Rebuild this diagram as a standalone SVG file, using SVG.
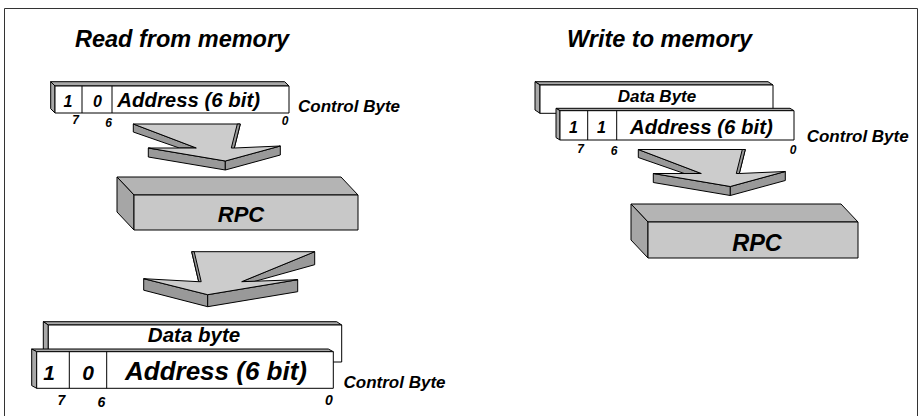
<svg xmlns="http://www.w3.org/2000/svg" xmlns:xlink="http://www.w3.org/1999/xlink" width="921" height="416" viewBox="0 0 921 416">
<style>
.t{font-family:"Liberation Sans",Arial,sans-serif;font-weight:bold;font-style:italic;fill:#000}
.f{stroke:#000;stroke-width:1;stroke-linejoin:round}
.w{fill:#fff}
.s{fill:#a8a8a8}
.at{fill:#cccccc}
.as{fill:#999999}
.rf{fill:#c8c8c8}
.rt{fill:#b4b4b4}
.rl{fill:#a6a6a6}
.div{stroke:#000;stroke-width:1}
</style>
<defs>
<g id="arrowA">
<polygon class="f as" points="0,0 63,24 46,24 0,8"/>
<polygon class="f as" points="15,24 92,37 92,46 15,33"/>
<polygon class="f as" points="92,37 147,22 147,31 92,46"/>
<polygon class="f at" points="0,0 107,0 101,24 147,22 92,37 15,24 63,24"/>
<polygon class="f as" points="104,0 107,0 101,24 98,24"/>
</g>
<g id="arrowB">
<polygon class="f as" points="123,0 123,13 62,30 50,30"/>
<polygon class="f as" points="-48,27 16,43 16,55 -48,38.5"/>
<polygon class="f as" points="16,43 106,28 106,40 16,55"/>
<polygon class="f at" points="0,0 123,0 50,30 106,28 16,43 -48,27 7,30"/>
<polygon class="f as" points="0,0 2.5,0 9.5,30 7,30"/>
</g>
</defs>
<polyline points="4.5,416 4.5,8.5 917.5,8.5 917.5,416" fill="none" stroke="#333" stroke-width="1"/>
<text class="t" x="75" y="47" font-size="23.5">Read from memory</text>
<text class="t" x="567" y="47" font-size="23.5">Write to memory</text>

<g id="connectors">
<use xlink:href="#arrowA" transform="translate(133.3,124)"/>
<use xlink:href="#arrowB" transform="translate(191.7,251.7)"/>
<use xlink:href="#arrowA" transform="translate(638.3,149.5)"/>
</g>

<g id="ctrl-read">
<polygon class="f s" points="50.7,81.7 284.7,81.7 289,86 55,86"/>
<polygon class="f s" points="50.7,81.7 55,86 55,113 50.7,108.7"/>
<rect class="f w" x="55" y="86" width="234" height="27"/>
<line class="div" x1="82" y1="86" x2="82" y2="113"/>
<line class="div" x1="112" y1="86" x2="112" y2="113"/>
<text class="t" x="68" y="106.5" font-size="16" text-anchor="middle">1</text>
<text class="t" x="97.5" y="106.5" font-size="16" text-anchor="middle">0</text>
<text class="t" x="117.3" y="106.5" font-size="20.4">Address (6 bit)</text>
<text class="t" x="75.5" y="124" font-size="12" text-anchor="middle">7</text>
<text class="t" x="108.5" y="127" font-size="12" text-anchor="middle">6</text>
<text class="t" x="285" y="125" font-size="12" text-anchor="middle">0</text>
<text class="t" x="298" y="111.5" font-size="17">Control Byte</text>
</g>

<g id="rpc-read">
<polygon class="f rt" points="117,177 341,177 358,195 134,195"/>
<polygon class="f rl" points="117,177 134,195 134,230 117,212"/>
<rect class="f rf" x="134" y="195" width="224" height="35"/>
<text class="t" x="241" y="221.5" font-size="22" text-anchor="middle">RPC</text>
</g>

<g id="data-read">
<polygon class="f s" points="43.3,321.7 336.7,321.7 341.7,325 48.3,325"/>
<polygon class="f s" points="43.3,321.7 48.3,325 48.3,362 43.3,358.7"/>
<rect class="f w" x="48.3" y="325" width="293.4" height="37"/>
<text class="t" x="194" y="341.7" font-size="20.5" text-anchor="middle">Data byte</text>
</g>

<g id="ctrl-read-result">
<polygon class="f s" points="31.7,349 328.3,349 333.3,351.7 36.7,351.7"/>
<polygon class="f s" points="31.7,349 36.7,351.7 36.7,388.3 31.7,385.6"/>
<rect class="f w" x="36.7" y="351.7" width="296.6" height="36.6"/>
<line class="div" x1="69.3" y1="351.7" x2="69.3" y2="388.3"/>
<line class="div" x1="106.7" y1="351.7" x2="106.7" y2="388.3"/>
<text class="t" x="49" y="380" font-size="21" text-anchor="middle">1</text>
<text class="t" x="88" y="380" font-size="21" text-anchor="middle">0</text>
<text class="t" x="125" y="380" font-size="26">Address (6 bit)</text>
<text class="t" x="61.5" y="405" font-size="14" text-anchor="middle">7</text>
<text class="t" x="101.5" y="407" font-size="14" text-anchor="middle">6</text>
<text class="t" x="329" y="405" font-size="14" text-anchor="middle">0</text>
<text class="t" x="343.5" y="388" font-size="17">Control Byte</text>
</g>

<g id="data-write">
<polygon class="f s" points="535,81.7 768,81.7 773,85 540,85"/>
<polygon class="f s" points="535,81.7 540,85 540,113.3 535,110"/>
<rect class="f w" x="540" y="85" width="233" height="28.3"/>
<text class="t" x="657" y="101.7" font-size="17" text-anchor="middle">Data Byte</text>
</g>

<g id="ctrl-write">
<polygon class="f s" points="556,108.3 790,108.3 794,110.7 560,110.7"/>
<polygon class="f s" points="556,108.3 560,110.7 560,140 556,137.6"/>
<rect class="f w" x="560" y="110.7" width="234" height="29.3"/>
<line class="div" x1="587.7" y1="110.7" x2="587.7" y2="140"/>
<line class="div" x1="616.7" y1="110.7" x2="616.7" y2="140"/>
<text class="t" x="573.5" y="133.3" font-size="16" text-anchor="middle">1</text>
<text class="t" x="601.5" y="133.3" font-size="16" text-anchor="middle">1</text>
<text class="t" x="630" y="134" font-size="20.4">Address (6 bit)</text>
<text class="t" x="580.5" y="153" font-size="12" text-anchor="middle">7</text>
<text class="t" x="614" y="155" font-size="12" text-anchor="middle">6</text>
<text class="t" x="793" y="154" font-size="12" text-anchor="middle">0</text>
<text class="t" x="806.7" y="141.5" font-size="17">Control Byte</text>
</g>

<g id="rpc-write">
<polygon class="f rt" points="631,204 841,204 858,222 648,222"/>
<polygon class="f rl" points="631,204 648,222 648,258 631,240"/>
<rect class="f rf" x="648" y="222" width="210" height="36"/>
<text class="t" x="757" y="251" font-size="23.5" text-anchor="middle">RPC</text>
</g>
</svg>
